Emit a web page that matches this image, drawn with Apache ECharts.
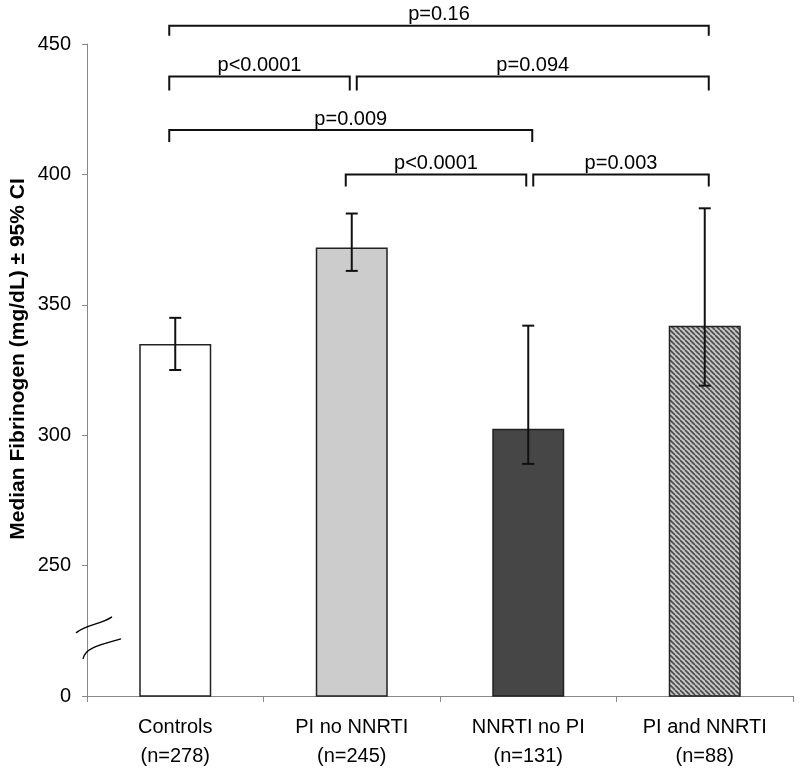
<!DOCTYPE html>
<html><head><meta charset="utf-8">
<script src="https://cdn.jsdelivr.net/npm/echarts@6/dist/echarts.min.js"></script>
<style>html,body{margin:0;padding:0;background:#fff}#c{width:800px;height:772px}</style>
</head><body><div id="c"></div>
<script>
// ---- data ----
const categories = ['Controls\n(n=278)', 'PI no NNRTI\n(n=245)', 'NNRTI no PI\n(n=131)', 'PI and NNRTI\n(n=88)'];
const medians = [335, 372, 302.5, 342];
const ciLow  = [325, 363, 289, 319];
const ciHigh = [345, 385, 342, 387];
const yTicks = [200, 250, 300, 350, 400, 450];       // broken axis: 200 position is labelled 0
const yTickLabels = ['0', '250', '300', '350', '400', '450'];
const bracketFrom  = [0, 0, 1, 0, 1, 2];
const bracketTo    = [3, 1, 3, 2, 2, 3];
const bracketLevel = [457, 437.5, 437.5, 417, 400, 400];
const bracketLabel = ['p=0.16', 'p<0.0001', 'p=0.094', 'p=0.009', 'p<0.0001', 'p=0.003'];
const breakValue = 220;

// ---- styles ----
function hatch() {
  const c = document.createElement('canvas'); c.width = 5; c.height = 5;
  const g = c.getContext('2d');
  g.fillStyle = '#c6c6c6'; g.fillRect(0, 0, 5, 5);
  g.strokeStyle = '#4a4a4a'; g.lineWidth = 1.6;
  for (let k = -1; k <= 1; k++) { g.beginPath(); g.moveTo(k * 5, 0); g.lineTo(k * 5 + 5, 5); g.stroke(); }
  return c;
}
const fills = ['#ffffff', '#cccccc', '#464646', { image: hatch(), repeat: 'repeat' }];
const FONT = '"Liberation Sans", Arial, sans-serif';
const dropPx = { 457: 10, 437.5: 14, 417: 12, 400: 12 };

const chart = echarts.init(document.getElementById('c'), null, { renderer: 'canvas' });
chart.setOption({
  animation: false,
  backgroundColor: '#fff',
  grid: { left: 87, right: 7, top: 44, bottom: 76 },
  xAxis: {
    type: 'category', data: categories,
    axisLine: { show: true, lineStyle: { color: '#888', width: 1 } },
    axisTick: { show: true, length: 6, alignWithLabel: false, interval: 0, lineStyle: { color: '#888' } },
    axisLabel: { interval: 0, fontSize: 20, lineHeight: 29, color: '#000', fontFamily: FONT, margin: 17 }
  },
  yAxis: {
    type: 'value', min: 200, max: 450, interval: 50,
    axisLine: { show: true, lineStyle: { color: '#888', width: 1 } },
    axisTick: { show: true, length: 5, lineStyle: { color: '#888' } },
    splitLine: { show: false },
    axisLabel: { fontSize: 20, color: '#000', fontFamily: FONT, margin: 16,
      formatter: v => { const i = yTicks.indexOf(v); return i >= 0 ? yTickLabels[i] : ''; } }
  },
  graphic: [{
    type: 'text', x: 18, y: 359, rotation: Math.PI / 2,
    style: { text: 'Median Fibrinogen (mg/dL) ± 95% CI', font: 'bold 21px ' + FONT, fill: '#000',
      textAlign: 'center', textVerticalAlign: 'middle', align: 'center', verticalAlign: 'middle' }
  }],
  series: [
    {
      type: 'bar', barWidth: 72, silent: true,
      data: medians.map((v, i) => ({ value: v, itemStyle: { color: fills[i] } })),
      itemStyle: { borderColor: '#222', borderWidth: 1.5 }
    },
    {
      type: 'custom', silent: true, z: 5,
      data: categories.map((c, i) => [i, ciLow[i], ciHigh[i]]),
      encode: { x: 0, y: [1, 2] },
      renderItem(params, api) {
        const x = api.value(0);
        const lo = api.coord([x, api.value(1)]);
        const hi = api.coord([x, api.value(2)]);
        const w = 6, st = { stroke: '#111', lineWidth: 2 };
        return { type: 'group', children: [
          { type: 'line', shape: { x1: lo[0], y1: lo[1], x2: hi[0], y2: hi[1] }, style: st },
          { type: 'line', shape: { x1: lo[0] - w, y1: lo[1], x2: lo[0] + w, y2: lo[1] }, style: st },
          { type: 'line', shape: { x1: hi[0] - w, y1: hi[1], x2: hi[0] + w, y2: hi[1] }, style: st }
        ] };
      }
    },
    {
      type: 'custom', silent: true, z: 5, clip: false,
      data: bracketFrom.map((f, i) => [f, bracketTo[i], bracketLevel[i], i]),
      encode: { x: [0, 1], y: 2 },
      renderItem(params, api) {
        const i = api.value(3);
        const a = api.coord([api.value(0), api.value(2)]);
        const b = api.coord([api.value(1), api.value(2)]);
        let dx1 = -6, dx2 = 4;
        for (let j = 0; j < bracketFrom.length; j++) {
          if (j === i || bracketLevel[j] !== bracketLevel[i]) continue;
          if (bracketTo[j] === bracketFrom[i]) dx1 = 5;
          if (bracketFrom[j] === bracketTo[i]) dx2 = -2;
        }
        const x1 = a[0] + dx1, x2 = b[0] + dx2, y = a[1];
        const d = dropPx[bracketLevel[i]] || 12;
        return { type: 'group', children: [
          { type: 'polyline', shape: { points: [[x1, y + d], [x1, y], [x2, y], [x2, y + d]] },
            style: { stroke: '#111', lineWidth: 2, fill: null } },
          { type: 'text', x: (x1 + x2) / 2, y: y - 1,
            style: { text: bracketLabel[i], font: '20px ' + FONT, fill: '#000',
              textAlign: 'center', textVerticalAlign: 'bottom', align: 'center', verticalAlign: 'bottom' } }
        ] };
      }
    },
    {
      type: 'custom', silent: true, z: 6, clip: false,
      data: [[0, breakValue]],
      encode: { x: 0, y: 1 },
      renderItem(params, api) {
        const ax = params.coordSys.x;
        const ay = api.coord([0, api.value(1)])[1];
        const st = { stroke: '#000', lineWidth: 1.4, fill: null };
        return { type: 'group', children: [
          { type: 'bezierCurve', shape: { x1: ax - 11, y1: ay - 11, cpx1: ax + 1, cpy1: ay - 20, cpx2: ax + 13, cpy2: ay - 19, x2: ax + 25, y2: ay - 27 }, style: st },
          { type: 'bezierCurve', shape: { x1: ax - 4, y1: ay + 15, cpx1: ax - 2, cpy1: ay + 4, cpx2: ax + 13, cpy2: ay + 1, x2: ax + 34, y2: ay - 5 }, style: st }
        ] };
      }
    }
  ]
});
</script>
</body></html>
